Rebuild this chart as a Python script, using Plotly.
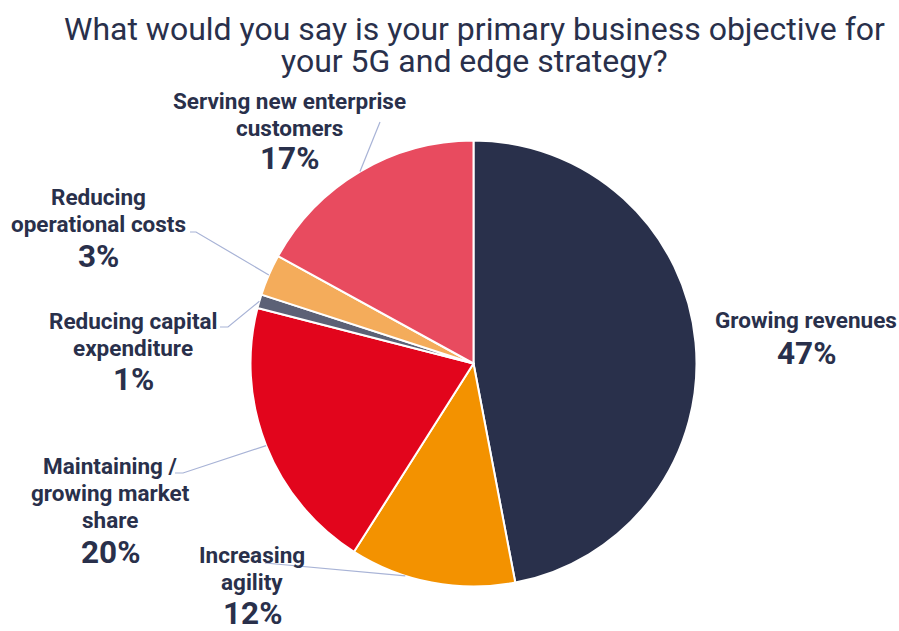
import math
import plotly.graph_objects as go

# ---- data ----
categories = [
    "Growing revenues",
    "Increasing agility",
    "Maintaining / growing market share",
    "Reducing capital expenditure",
    "Reducing operational costs",
    "Serving new enterprise customers",
]
values = [47, 12, 20, 1, 3, 17]
label_lines = [
    ["Growing revenues"],
    ["Increasing", "agility"],
    ["Maintaining /", "growing market", "share"],
    ["Reducing capital", "expenditure"],
    ["Reducing", "operational costs"],
    ["Serving new enterprise", "customers"],
]
colors = ["#29304B", "#F39200", "#E2051C", "#5C6176", "#F4AC5B", "#E84B5F"]

# ---- layout config (pixels) ----
W, H = 899, 631
CX, CY, R = 473.5, 363.5, 223
TEXT = "#29304B"
LEADER = "#A8B3D6"
FONT = "Roboto"

# label block: centre x, first-line y, percent y
label_pos = [
    (806, 320, 353),
    (252, 555, 613),
    (110, 466, 552),
    (133, 321, 379),
    (98, 197, 256),
    (289, 101, 159),
]
# leader line label-side points (None = no leader)
leader_start = [
    None,
    [(265, 563)],
    [(175, 473), (183, 473)],
    [(220, 327), (228, 327)],
    [(190, 232), (196, 232)],
    [(380, 122)],
]
leader_angle_shift = [0, 7, 0, 0, 0, 0]


def px(x):
    return x / W


def py(y):
    return 1 - y / H


fig = go.Figure(
    go.Pie(
        labels=categories,
        values=values,
        sort=False,
        direction="clockwise",
        rotation=0,
        marker=dict(colors=colors, line=dict(color="white", width=2)),
        textinfo="none",
        hoverinfo="label+percent",
        showlegend=False,
        domain=dict(x=[px(CX - R), px(CX + R)], y=[py(CY + R), py(CY - R)]),
    )
)

total = sum(values)
cum = 0
annotations = []
shapes = []
for i, v in enumerate(values):
    mid = (cum + v / 2) / total * 360 + leader_angle_shift[i]
    cum += v
    ex = CX + R * math.sin(math.radians(mid))
    ey = CY - R * math.cos(math.radians(mid))
    if leader_start[i]:
        pts = leader_start[i] + [(ex, ey)]
        path = "M " + " L ".join(f"{px(x)},{py(y)}" for x, y in pts)
        shapes.append(dict(type="path", xref="paper", yref="paper", path=path,
                           line=dict(color=LEADER, width=1.2), layer="above"))
    cx, ly, pyy = label_pos[i]
    for j, line in enumerate(label_lines[i]):
        annotations.append(dict(
            x=px(cx), y=py(ly + j * 27), xref="paper", yref="paper",
            text=f"<b>{line}</b>", showarrow=False, xanchor="center", yanchor="middle",
            font=dict(family=FONT, size=22.5, color=TEXT),
        ))
    annotations.append(dict(
        x=px(cx), y=py(pyy), xref="paper", yref="paper",
        text=f"<b>{round(v / total * 100)}%</b>", showarrow=False,
        xanchor="center", yanchor="middle",
        font=dict(family=FONT, size=31.5, color=TEXT),
    ))

title_lines = ["What would you say is your primary business objective for",
               "your 5G and edge strategy?"]
for j, t in enumerate(title_lines):
    annotations.append(dict(
        x=px(474.5), y=py(29 + j * 32), xref="paper", yref="paper", text=t,
        showarrow=False, xanchor="center", yanchor="middle",
        font=dict(family=FONT, size=32, color=TEXT),
    ))

fig.update_layout(
    width=W, height=H, autosize=False,
    margin=dict(l=0, r=0, t=0, b=0),
    paper_bgcolor="white", plot_bgcolor="white",
    annotations=annotations, shapes=shapes,
)
fig.write_html(
    "out.html",
    config={"displayModeBar": False},
    post_script="document.body.style.margin='0';document.body.style.overflow='hidden';",
)
